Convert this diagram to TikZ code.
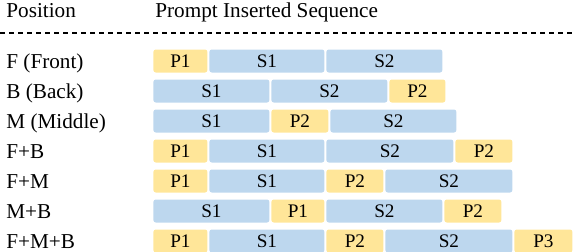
\documentclass[tikz,border=0pt]{standalone}
\usepackage{fontspec}
\setmainfont{Liberation Serif}
\usetikzlibrary{positioning}
\definecolor{promptFill}{HTML}{FFE699}
\definecolor{seqFill}{HTML}{BDD7EE}
\definecolor{inkText}{HTML}{000000}

\begin{document}
\begin{tikzpicture}[
  x=0.5pt, y=-0.5pt,
  every node/.style={text=inkText},
  lab/.style={font=\fontsize{10.6}{12}\selectfont, anchor=base west, inner sep=0pt},
  seg/.style={rounded corners=1.2pt, minimum height=11.5pt, inner sep=0pt,
              font=\fontsize{9.6}{10}\selectfont},
  prm/.style={seg, fill=promptFill},
  sq/.style={seg, fill=seqFill},
  sep/.style={dash pattern=on 2.5pt off 2pt, line width=0.6pt},
]
\useasboundingbox (0,0) rectangle (574,252);

% ---------------- HEADER ----------------
\node[lab] (hPos) at (6,17) {Position};
\node[lab] (hSeq) at (155,17) {Prompt Inserted Sequence};
\coordinate (dashL) at (0,33);
\coordinate (dashR) at (574,33);
\draw[sep] (dashL) -- (dashR);

% ---------------- ROW LABELS ----------------
\node[lab] (l1) at (6,68) {F (Front)};
\node[lab] (l2) at (6,98) {B (Back)};
\node[lab] (l3) at (6,128) {M (Middle)};
\node[lab] (l4) at (6,158) {F+B};
\node[lab] (l5) at (6,188) {F+M};
\node[lab] (l6) at (6,218) {M+B};
\node[lab] (l7) at (6,248) {F+M+B};

% ---------------- SEQUENCES ----------------
% F
\node[prm, minimum width=27pt, anchor=west] (r1p1) at (153,61) {P1};
\node[sq, minimum width=57.5pt, right=0.6pt of r1p1] (r1s1) {S1};
\node[sq, minimum width=58pt, right=0.6pt of r1s1] (r1s2) {S2};
% B
\node[sq, minimum width=58pt, anchor=west] (r2s1) at (153,91) {S1};
\node[sq, minimum width=58pt, right=0.6pt of r2s1] (r2s2) {S2};
\node[prm, minimum width=28pt, right=0.6pt of r2s2] (r2p2) {P2};
% M
\node[sq, minimum width=58pt, anchor=west] (r3s1) at (153,121) {S1};
\node[prm, minimum width=28.5pt, right=0.6pt of r3s1] (r3p2) {P2};
\node[sq, minimum width=63pt, right=0.6pt of r3p2] (r3s2) {S2};
% F+B
\node[prm, minimum width=27pt, anchor=west] (r4p1) at (153,151) {P1};
\node[sq, minimum width=57.5pt, right=0.6pt of r4p1] (r4s1) {S1};
\node[sq, minimum width=63.5pt, right=0.6pt of r4s1] (r4s2) {S2};
\node[prm, minimum width=28.5pt, right=0.6pt of r4s2] (r4p2) {P2};
% F+M
\node[prm, minimum width=27pt, anchor=west] (r5p1) at (153,181) {P1};
\node[sq, minimum width=57.5pt, right=0.6pt of r5p1] (r5s1) {S1};
\node[prm, minimum width=28.5pt, right=0.6pt of r5s1] (r5p2) {P2};
\node[sq, minimum width=63.5pt, right=0.6pt of r5p2] (r5s2) {S2};
% M+B
\node[sq, minimum width=58pt, anchor=west] (r6s1) at (153,211) {S1};
\node[prm, minimum width=26.5pt, right=0.6pt of r6s1] (r6p1) {P1};
\node[sq, minimum width=58pt, right=0.6pt of r6p1] (r6s2) {S2};
\node[prm, minimum width=28.5pt, right=0.6pt of r6s2] (r6p2) {P2};
% F+M+B
\node[prm, minimum width=27pt, anchor=west] (r7p1) at (153,241) {P1};
\node[sq, minimum width=57.5pt, right=0.6pt of r7p1] (r7s1) {S1};
\node[prm, minimum width=28.5pt, right=0.6pt of r7s1] (r7p2) {P2};
\node[sq, minimum width=63.5pt, right=0.6pt of r7p2] (r7s2) {S2};
\node[prm, minimum width=29pt, right=0.6pt of r7s2] (r7p3) {P3};
\end{tikzpicture}
\end{document}
